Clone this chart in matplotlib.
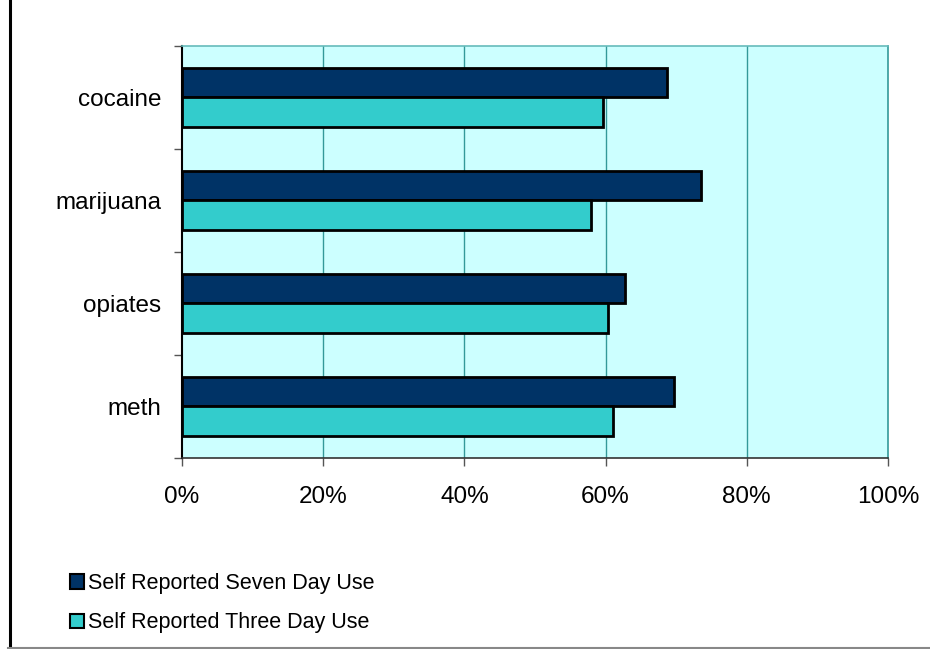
import matplotlib
matplotlib.use("Agg")
import matplotlib.pyplot as plt
from matplotlib.lines import Line2D
from matplotlib.patches import Patch
import numpy as np

plt.rcParams['font.family'] = ['Liberation Sans', 'DejaVu Sans']

categories = ["cocaine", "marijuana", "opiates", "meth"]
seven_day = [68.7, 73.5, 62.7, 69.7]
three_day = [59.7, 57.9, 60.4, 61.0]
series_labels = ["Self Reported Seven Day Use", "Self Reported Three Day Use"]
xticks = [0, 20, 40, 60, 80, 100]

c_seven = "#003366"
c_three = "#33CCCC"
c_bg = "#CCFFFF"
c_grid = "#339999"

fig = plt.figure(figsize=(9.3, 6.49), dpi=100)
ax = fig.add_axes([182/930, 1 - 458/649, (888-182)/930, (458-45.5)/649])
ax.set_facecolor(c_bg)

y = np.arange(len(categories))
h = 0.286
ax.barh(y - h/2, seven_day, height=h, color=c_seven, edgecolor="black", linewidth=2, zorder=3)
ax.barh(y + h/2, three_day, height=h, color=c_three, edgecolor="black", linewidth=2, zorder=3)

ax.set_xlim(0, 100)
ax.set_ylim(3.5, -0.5)
ax.set_xticks(xticks)
ax.set_xticklabels([f"{v}%" for v in xticks], fontsize=17.5)
ax.set_yticks(np.arange(-0.5, 4.0, 1.0))
ax.set_yticklabels([])
ax.set_yticks(y, minor=True)
ax.set_yticklabels(categories, minor=True, fontsize=17.5)
ax.tick_params(axis='y', which='minor', length=0, pad=15)
ax.tick_params(axis='y', which='major', length=6, color="#555555", width=1)
ax.tick_params(axis='x', length=6, color="#555555", width=1, pad=14)

for v in xticks[1:-1]:
    ax.axvline(v, color=c_grid, linewidth=1, zorder=1)

ax.spines['left'].set_color("black")
ax.spines['left'].set_linewidth(1.5)
ax.spines['bottom'].set_color("#333333")
ax.spines['bottom'].set_linewidth(1.2)
ax.spines['top'].set_color("#66BBBB")
ax.spines['top'].set_linewidth(1.2)
ax.spines['right'].set_color(c_grid)
ax.spines['right'].set_linewidth(1.2)

handles = [Patch(facecolor=c_seven, edgecolor="black", linewidth=1.5),
           Patch(facecolor=c_three, edgecolor="black", linewidth=1.5)]
leg = fig.legend(handles, series_labels, loc="upper left", bbox_to_anchor=(70/930, 1 - 573/649),
                 frameon=False, fontsize=15.5, handlelength=0.65, handleheight=0.65,
                 handletextpad=0.2, labelspacing=0.85, borderpad=0, borderaxespad=0)

fig.add_artist(Line2D([9.5/930, 9.5/930], [0, 1], transform=fig.transFigure, color="black", linewidth=2.2))
fig.add_artist(Line2D([8/930, 1], [1.5/649, 1.5/649], transform=fig.transFigure, color="#888888", linewidth=1.5))

fig.savefig("out.png", dpi=100)
